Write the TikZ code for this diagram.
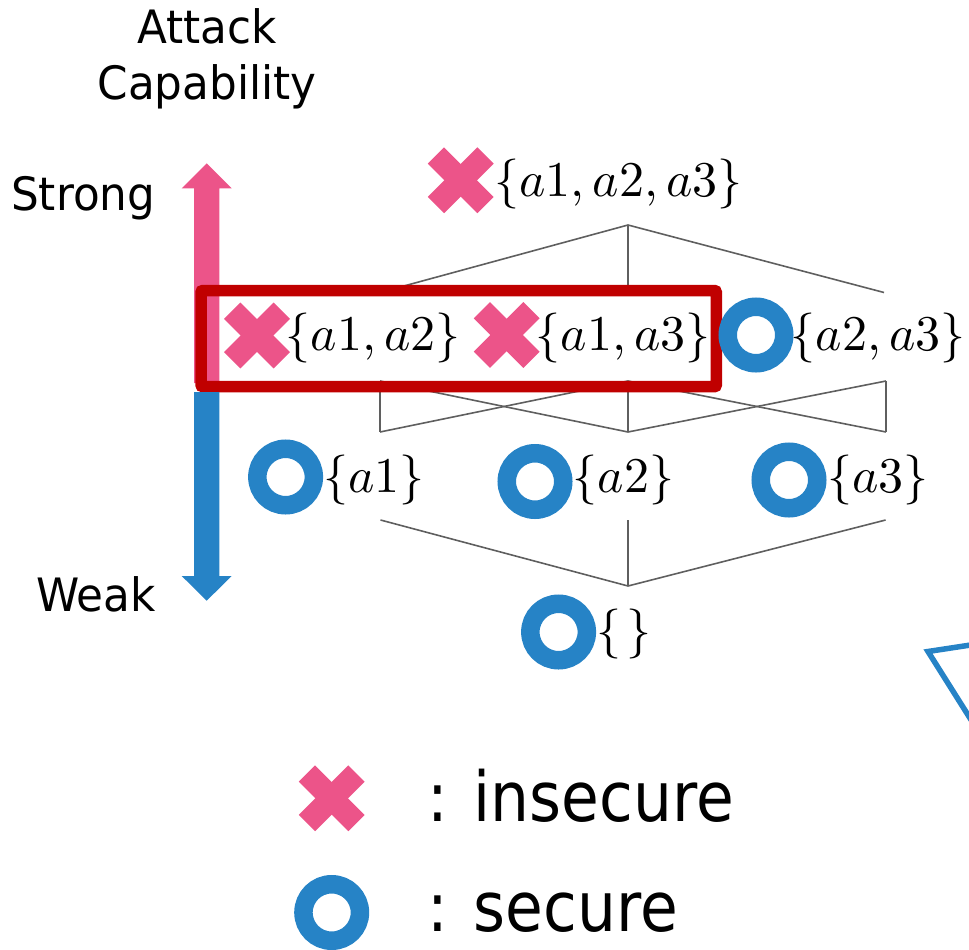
\documentclass[tikz,border=0pt]{standalone}
\usepackage{graphicx}
\usepackage{fontspec}
\newfontfamily\lblfont{DejaVu Sans}[FakeStretch=0.95]
\newfontfamily\keyfont{DejaVu Sans}[FakeStretch=0.89]
\definecolor{pinkx}{RGB}{236,84,137}
\definecolor{blueo}{RGB}{38,131,198}
\definecolor{redbox}{RGB}{192,0,0}
\definecolor{edgegray}{RGB}{95,95,95}
\newcommand{\setof}[1]{\scalebox{5}{$\{#1\}$}}
\tikzset{
  lbl/.style={font=\lblfont\fontsize{46}{52}\selectfont, inner sep=0, text=black},
  keytext/.style={font=\keyfont\fontsize{69}{80}\selectfont, inner sep=0, anchor=base west},
  setlbl/.style={font=\fontsize{10}{12}\selectfont, inner sep=0, anchor=west},
  xmark/.style={rectangle, minimum size=66, inner sep=0, outer sep=0,
    path picture={
      \draw[pinkx, line width=23]
        ([shift={(-24.8,-24.8)}]path picture bounding box.center) --
        ([shift={(24.8,24.8)}]path picture bounding box.center);
      \draw[pinkx, line width=23]
        ([shift={(-24.8,24.8)}]path picture bounding box.center) --
        ([shift={(24.8,-24.8)}]path picture bounding box.center);
    }},
  omark/.style={circle, draw=blueo, line width=18.5, minimum size=56.5, inner sep=0},
  hasse/.style={draw=edgegray, line width=1.6},
}
\begin{document}
\begin{tikzpicture}[x=1pt, y=-1pt]
\useasboundingbox (0,0) rectangle (969,950);
\begin{scope}
\clip (0,0) rectangle (969,950);

% end points of the lattice edges
\coordinate (apex) at (628,225);
\coordinate (u1) at (380,292.5);
\coordinate (u2) at (628,292.5);
\coordinate (u3) at (884,292.5);
\coordinate (m1t) at (380,381);
\coordinate (m2t) at (628,381);
\coordinate (m3t) at (886,381);
\coordinate (m1b) at (380,432);
\coordinate (m2b) at (628,432);
\coordinate (m3b) at (886,432);
\coordinate (l1) at (380.5,520);
\coordinate (l2) at (628,520);
\coordinate (l3) at (885.6,520);
\coordinate (bottom) at (628,586);

% lattice edges
\draw[hasse] (u1) -- (apex) -- (u3);
\draw[hasse] (apex) -- (u2);
\draw[hasse] (m1t) -- (m1b);
\draw[hasse] (m2t) -- (m2b);
\draw[hasse] (m3t) -- (m3b);
\draw[hasse] (m1t) -- (m2b);
\draw[hasse] (m2t) -- (m1b);
\draw[hasse] (m2t) -- (m3b);
\draw[hasse] (m3t) -- (m2b);
\draw[hasse] (l1) -- (bottom) -- (l3);
\draw[hasse] (l2) -- (bottom);

% capability axis, strong part
\fill[pinkx] (194,383) -- (194,188.3) -- (181.7,188.3) -- (206.7,163.3)
  -- (231.7,188.3) -- (219.3,188.3) -- (219.3,383) -- cycle;

% frame around the insecure pairs
\node[draw=redbox, line width=11.5, rounded corners=2, inner sep=0,
  minimum width=515.3, minimum height=96.2] (pairs) at (458.65,338.6) {};

% capability axis, weak part
\fill[blueo] (194,392) -- (194,576) -- (181.7,576) -- (206.7,600.7)
  -- (231.7,576) -- (219.3,576) -- (219.3,392) -- cycle;

% axis labels
\node[lbl, anchor=base] (attack) at (207,44) {Attack};
\node[lbl, anchor=base] (capab) at (207,99.6) {Capability};
\node[lbl, anchor=base west] (strong) at (11,210.8) {Strong};
\node[lbl, anchor=base west] (weak) at (36,611) {Weak};

% top level
\node[xmark] (x123) at (460.7,180.3) {};
\node[setlbl] (s123) at (494,184) {\setof{a1, a2, a3}};

% pairs
\node[xmark] (x12) at (257,335.5) {};
\node[setlbl] (s12) at (285.5,337.5) {\setof{a1, a2}};
\node[xmark] (x13) at (506.7,335) {};
\node[setlbl] (s13) at (535.7,337.5) {\setof{a1, a3}};
\node[omark] (o23) at (756,335) {};
\node[setlbl] (s23) at (790.5,337.5) {\setof{a2, a3}};

% singletons
\node[omark] (o1) at (285.6,477) {};
\node[setlbl] (s1) at (322.8,480) {\setof{a1}};
\node[omark] (o2) at (535,481.5) {};
\node[setlbl] (s2) at (572.6,480) {\setof{a2}};
\node[omark] (o3) at (789,480) {};
\node[setlbl] (s3) at (827,480) {\setof{a3}};

% empty set
\node[omark] (o0) at (558.6,632) {};
\node[setlbl] (s0) at (596,633.5) {\setof{\mkern2mu}};

% legend
\node[xmark] (keyx) at (331.7,798.3) {};
\node[keytext] (keyxt) at (427,821) {: insecure};
\node[omark] (keyo) at (331.7,912.5) {};
\node[keytext] (keyot) at (427,931) {: secure};

% callout corner at the right edge
\coordinate (cA) at (985,642.8);
\coordinate (cB) at (928,651.5);
\coordinate (cC) at (985,742);
\draw[blueo, line width=5.5, line join=miter] (cA) -- (cB) -- (cC);
\end{scope}
\end{tikzpicture}
\end{document}
